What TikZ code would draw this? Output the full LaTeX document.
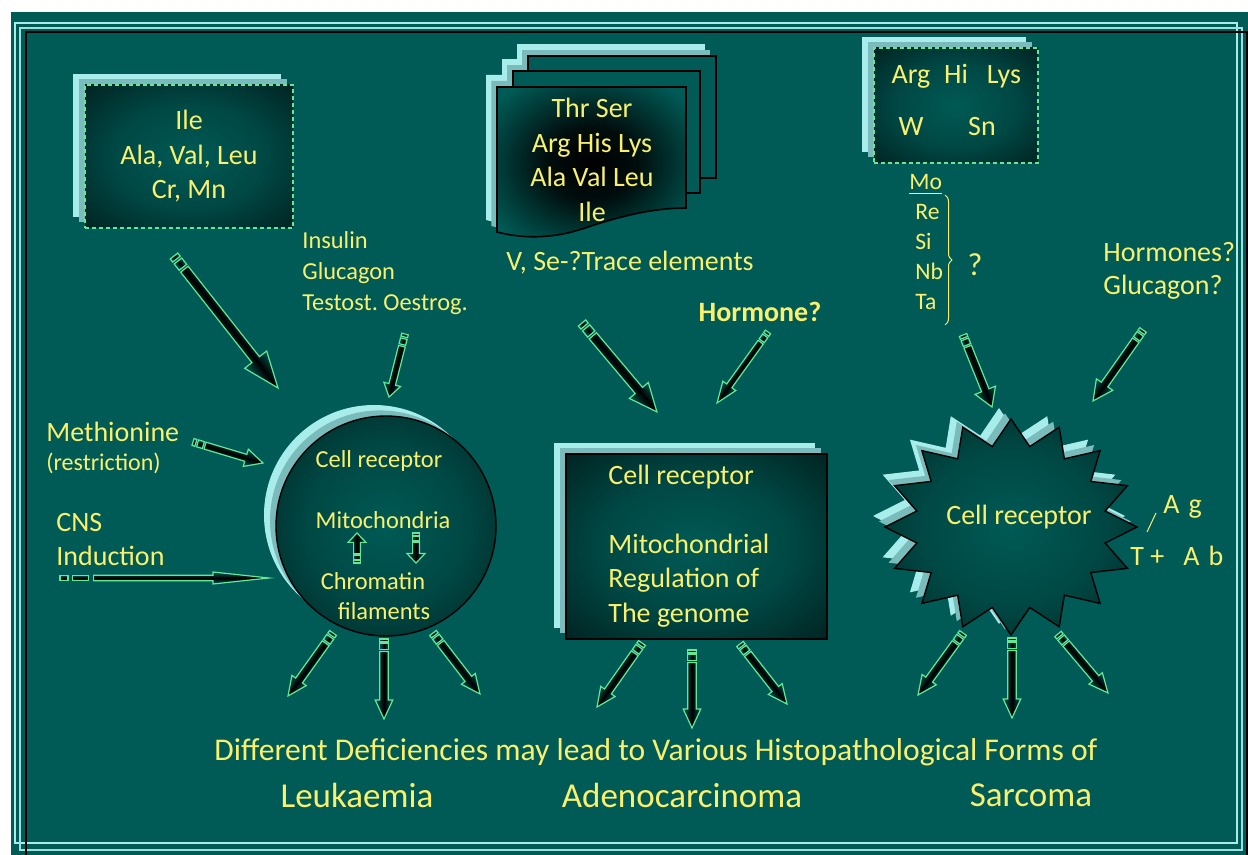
\documentclass[tikz,border=0pt]{standalone}
\usepackage{fontspec}
\setmainfont{Carlito}
\usetikzlibrary{calc,decorations.pathreplacing}

\definecolor{bgteal}{RGB}{0,90,85}
\definecolor{rimlight}{RGB}{168,236,236}
\definecolor{rimmid}{RGB}{122,188,188}
\definecolor{txtyellow}{RGB}{250,240,110}
\definecolor{pengreen}{RGB}{100,232,150}

\pgfdeclareradialshading{glowbox}{\pgfpointorigin}{color(0bp)=(bgteal); color(18bp)=(bgteal!80!black); color(42bp)=(bgteal!25!black); color(50bp)=(bgteal!12!black); color(72bp)=(black)}
\pgfdeclareradialshading{darkcore}{\pgfpointorigin}{color(0bp)=(black); color(12bp)=(black!85!bgteal); color(32bp)=(bgteal); color(72bp)=(bgteal)}

\newcommand\pencil[6][2]{%
  \path let \p1=($(#3)-(#2)$) in
    \pgfextra{\pgfmathsetmacro\penang{atan2(\y1,\x1)}%
              \pgfmathsetmacro\penlen{veclen(\x1,\y1)}%
              \xdef\penAng{\penang}\xdef\penLen{\penlen}};
  \pgfmathsetmacro\penA{#1}%
  \pgfmathsetmacro\penB{1.6*#1}%
  \pgfmathsetmacro\penC{3.6*#1}%
  \pgfmathsetmacro\penD{4.2*#1}%
  \pgfmathsetmacro\penE{\penLen-#6}%
  \begin{scope}[transform canvas={shift={(#2)},rotate=\penAng}]
    \path[pencilbody] (0pt,-#4pt) rectangle (\penA pt,#4pt);
    \path[pencilbody] (\penB pt,-#4pt) rectangle (\penC pt,#4pt);
    \path[pencilbody] (\penD pt,-#4pt) -- (\penE pt,-#4pt) -- (\penE pt,-#5pt)
      -- (\penLen pt,0pt) -- (\penE pt,#5pt) -- (\penE pt,#4pt) -- (\penD pt,#4pt) -- cycle;
  \end{scope}}

\begin{document}
\begin{tikzpicture}[
  x = 0.5pt,
  y = -0.5pt,
  txt/.style = {
    text = txtyellow,
    font = \fontsize{14}{17.25}\selectfont,
    align = center,
    inner sep = 0pt
  },
  smalltxt/.style = {
    txt,
    font = \fontsize{12.2}{15.5}\selectfont
  },
  bigtxt/.style = {
    txt,
    font = \fontsize{17.5}{21}\selectfont
  },
  glow/.style = {
    shade,
    shading = glowbox,
    draw = black,
    line width = 0.8pt
  },
  dashbox/.style = {
    draw = pengreen,
    line width = 0.6pt,
    dash pattern = on 2pt off 1.5pt
  },
  rimmed/.style = {
    preaction = {fill = rimlight, transform canvas = {shift = {(-6pt,5.5pt)}}},
    preaction = {fill = rimmid, transform canvas = {shift = {(-3pt,2.8pt)}}}
  },
  page/.style = {
    fill = bgteal,
    draw = black,
    line width = 0.8pt
  },
  pencilbody/.style = {
    draw = pengreen,
    line width = 0.6pt,
    top color = bgteal,
    bottom color = bgteal,
    middle color = black
  }
]
  \useasboundingbox (0,0) rectangle (1248,855);
  \fill[white] (0,0) rectangle (1248,855);
  \fill[bgteal] (11,12) rectangle (1248,855);
  \draw[rimlight, line width = 1pt] (15,23) rectangle (1237,843);
  \draw[rimlight!75!rimmid, line width = 1pt] (20,28) rectangle (1242,850);
  \draw[black, line width = 0.6pt] (26,32) rectangle (1247,862);

  % amino acid box, left
  \node[glow, dashbox, rimmed, txt, minimum width = 104pt, minimum height = 71.5pt]
    (aminoL) at (189,156.5) {Ile\\Ala, Val, Leu\\Cr, Mn};

  % stacked pages, middle
  \foreach \dx/\dy/\col in {-5.5/6/rimlight, -2.8/3/rimmid} {
    \begin{scope}[transform canvas = {shift = {(\dx pt,\dy pt)}}]
      \fill[\col] (528,56) rectangle (716,178);
      \fill[\col] (513,71) rectangle (700,193);
      \fill[\col] (497,87) -- (686,87) -- (686,208) .. controls (650,208) and (615,218) .. (585,228)
        .. controls (550,240) and (520,238) .. (497,232) -- cycle;
    \end{scope}
  }
  \path[page] (528,56) rectangle (716,178);
  \path[page] (513,71) rectangle (700,193);
  \path[page, shade, shading = darkcore] (497,87) -- (686,87) -- (686,208)
    .. controls (650,208) and (615,218) .. (585,228)
    .. controls (550,240) and (520,238) .. (497,232) -- cycle;
  \node[txt] (aminoM) at (592,160) {Thr Ser\\Arg His Lys\\Ala Val Leu\\Ile};
  \node[txt] (trace) at (630,263) {V, Se-?Trace elements};
  \node[txt, font = \fontsize{14}{17}\selectfont\bfseries] (hormone) at (760,312) {Hormone?};

  % box, right
  \node[glow, dashbox, rimmed, minimum width = 82pt, minimum height = 57.5pt] (aminoR) at (956,105.5) {};
  \node[txt, anchor = base] (arg) at (911,84) {Arg};
  \node[txt, anchor = base] (hi) at (956,84) {Hi};
  \node[txt, anchor = base] (lys) at (1004,84) {Lys};
  \node[txt, anchor = base] (w) at (911,136) {W};
  \node[txt, anchor = base] (sn) at (982,136) {Sn};
  \node[smalltxt, font = \fontsize{11.8}{15}\selectfont, anchor = base west] (mo) at (909,190) {\underline{Mo}};
  \node[smalltxt, font = \fontsize{11.8}{15}\selectfont, align = left, anchor = west] (metals) at (915,257)
    {Re\\Si\\Nb\\Ta};
  \coordinate (braceTop) at (945,195);
  \coordinate (braceBot) at (945,325);
  \draw[txtyellow, line width = 0.5pt, decorate, decoration = {brace, amplitude = 3.5pt}] (braceTop) -- (braceBot);
  \node[txt, font = \fontsize{16}{18}\selectfont] (query) at (975,265) {?};
  \node[txt, align = left, anchor = west, font = \fontsize{14}{16.5}\selectfont] (hormones) at (1103,270.5)
    {Hormones?\\Glucagon?};

  % left side inputs
  \node[smalltxt, align = left, anchor = west] (insulin) at (302,273) {Insulin\\Glucagon\\Testost.\ Oestrog.};
  \node[txt, anchor = west] (methionine) at (46,432) {Methionine};
  \node[smalltxt, font = \fontsize{12}{14}\selectfont, anchor = west] (restrict) at (46,463) {(restriction)};
  \node[txt, align = left, anchor = west, font = \fontsize{14}{17}\selectfont] (cns) at (56,540) {CNS\\Induction};

  % cell, left
  \node[glow, rimmed, circle, minimum size = 110pt, line width = 0.7pt] (cellL) at (386,526) {};
  \node[smalltxt] (recL) at (379,461) {Cell receptor};
  \node[smalltxt] (mito) at (383,520) {Mitochondria};
  \node[smalltxt] (chrom) at (373,581) {Chromatin};
  \node[smalltxt] (fil) at (384,611) {filaments};

  % cell, middle
  \node[glow, rimmed, minimum width = 130.5pt, minimum height = 92.5pt, line width = 1pt] (cellM) at (696.5,546.5) {};
  \node[txt, align = left, anchor = west] (genome) at (608,546)
    {Cell receptor\\\mbox{}\\Mitochondrial\\Regulation of\\The genome};

  % cell, right
  \path[glow, rimmed, line width = 0.7pt]
    plot[samples at = {0,...,31}, variable = \k]
      ({1011 + ifthenelse(mod(\k,2)==0,126,96)*cos(\k*11.25)},
       {527 + ifthenelse(mod(\k,2)==0,108,82)*sin(\k*11.25)}) -- cycle;
  \node[txt] (recR) at (1019,517) {Cell receptor};
  \node[txt, anchor = west] (ag) at (1163,507) {A\hspace{4.5pt}g};
  \node[txt, anchor = west] (tab) at (1130,556) {T +\hspace{9.5pt}A\hspace{4.5pt}b};
  \coordinate (slashA) at (1156,513);
  \coordinate (slashB) at (1147,532);
  \draw[txtyellow, line width = 0.5pt] (slashA) -- (slashB);

  % bottom lines
  \node[txt, font = \fontsize{15.8}{18}\selectfont] (diff) at (656,752)
    {Different Deficiencies may lead to Various Histopathological Forms of};
  \node[bigtxt] (leuk) at (357,795) {Leukaemia};
  \node[bigtxt] (adeno) at (682,795) {Adenocarcinoma};
  \node[bigtxt] (sarc) at (1031,795) {Sarcoma};

  % arrows
  \coordinate (ileT) at (174,256);   \coordinate (ileH) at (278,388);
  \coordinate (insT) at (405,334);   \coordinate (insH) at (389,397);
  \coordinate (metT) at (193,442);   \coordinate (metH) at (263,463);
  \coordinate (cnsT) at (60,578);    \coordinate (cnsH) at (269,578);
  \coordinate (thrT) at (582,323);   \coordinate (thrH) at (657,412);
  \coordinate (horT) at (768,332);   \coordinate (horH) at (717,403);
  \coordinate (argT) at (963,335);   \coordinate (argH) at (992,407);
  \coordinate (gluT) at (1143,330);  \coordinate (gluH) at (1093,401);
  \coordinate (upT) at (357,563);    \coordinate (upH) at (357,533);
  \coordinate (dnT) at (416,533);    \coordinate (dnH) at (416,563);
  \coordinate (l1T) at (333,633);    \coordinate (l1H) at (288,696);
  \coordinate (l2T) at (384,639);    \coordinate (l2H) at (384,719);
  \coordinate (l3T) at (433,633);    \coordinate (l3H) at (480,694);
  \coordinate (m1T) at (642,643);    \coordinate (m1H) at (597,707);
  \coordinate (m2T) at (692,650);    \coordinate (m2H) at (692,728);
  \coordinate (m3T) at (740,644);    \coordinate (m3H) at (787,704);
  \coordinate (r1T) at (963,633);    \coordinate (r1H) at (918,695);
  \coordinate (r2T) at (1012,638);   \coordinate (r2H) at (1012,718);
  \coordinate (r3T) at (1058,634);   \coordinate (r3H) at (1108,693);

  \pencil{ileT}{ileH}{2.4}{7}{18}
  \pencil[1.5]{insT}{insH}{1.7}{4.3}{6.5}
  \pencil[1.5]{metT}{metH}{1.8}{4.5}{9}
  \pencil[4]{cnsT}{cnsH}{1.4}{3}{28}
  \pencil{thrT}{thrH}{2.4}{6.2}{14}
  \pencil[1.5]{horT}{horH}{1.6}{4}{10.5}
  \pencil[1.5]{argT}{argH}{2}{5.5}{9}
  \pencil[1.5]{gluT}{gluH}{2}{5}{10}
  \pencil[1.1]{upT}{upH}{1.7}{4.5}{4.7}
  \pencil[1.1]{dnT}{dnH}{1.7}{4.5}{4.7}
  \foreach \a in {l1,l2,l3,m1,m2,m3,r1,r2,r3} {
    \pencil[1.5]{\a T}{\a H}{2.1}{4.4}{9.5}
  }
\end{tikzpicture}
\end{document}
